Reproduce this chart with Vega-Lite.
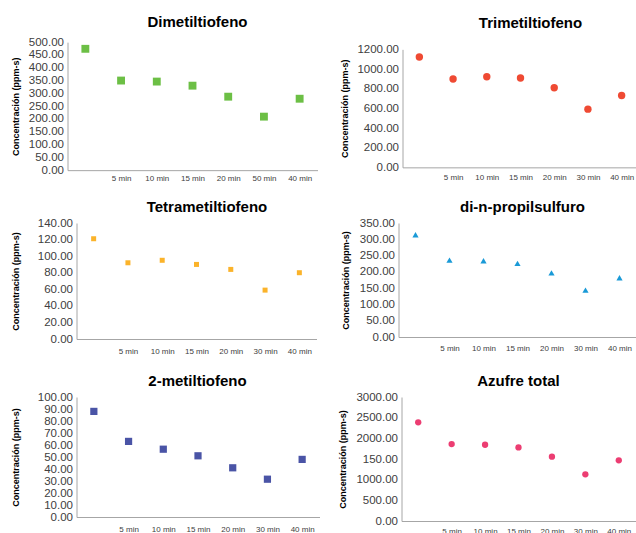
{
  "$schema": "https://vega.github.io/schema/vega-lite/v6.json",
  "padding": {"left": 10.5, "top": 14, "right": 0, "bottom": 0},
  "background": "white",
  "datasets": {
    "d1": [{"t": "", "v": 474}, {"t": "5 min", "v": 350}, {"t": "10 min", "v": 346}, {"t": "15 min", "v": 330}, {"t": "20 min", "v": 287}, {"t": "50 min", "v": 209}, {"t": "40 min", "v": 279}],
    "d2": [{"t": "", "v": 1122}, {"t": "5 min", "v": 898}, {"t": "10 min", "v": 922}, {"t": "15 min", "v": 908}, {"t": "20 min", "v": 810}, {"t": "30 min", "v": 592}, {"t": "40 min", "v": 731}],
    "d3": [{"t": "", "v": 121}, {"t": "5 min", "v": 92}, {"t": "10 min", "v": 95}, {"t": "15 min", "v": 90}, {"t": "20 min", "v": 84}, {"t": "30 min", "v": 59}, {"t": "40 min", "v": 80}],
    "d4": [{"t": "", "v": 314}, {"t": "5 min", "v": 236}, {"t": "10 min", "v": 234}, {"t": "15 min", "v": 226}, {"t": "20 min", "v": 197}, {"t": "30 min", "v": 144}, {"t": "40 min", "v": 182}],
    "d5": [{"t": "", "v": 88}, {"t": "5 min", "v": 63}, {"t": "10 min", "v": 56.5}, {"t": "15 min", "v": 51}, {"t": "20 min", "v": 41}, {"t": "30 min", "v": 31.5}, {"t": "40 min", "v": 48}],
    "d6": [{"t": "", "v": 2387}, {"t": "5 min", "v": 1861}, {"t": "10 min", "v": 1845}, {"t": "15 min", "v": 1780}, {"t": "20 min", "v": 1557}, {"t": "30 min", "v": 1130}, {"t": "40 min", "v": 1468}]
  },
  "align": "none",
  "spacing": 11,
  "vconcat": [
    {
      "center": true,
      "spacing": 23,
      "hconcat": [
        {
          "data": {"name": "d1"},
          "width": 250, "height": 128,
          "title": {"text": "Dimetiltiofeno", "dx": 5, "offset": 6.5},
          "mark": {"type": "point", "shape": "square", "filled": true, "opacity": 1, "size": 62, "color": "#6CBF45"},
          "encoding": {
            "x": {"field": "t", "type": "nominal", "title": " ", "scale": {"type": "point", "padding": 0.5, "domain": ["", "5 min", "10 min", "15 min", "20 min", "50 min", "40 min"]}, "axis": {"labelPadding": 4.7, "titleFontSize": 2, "titlePadding": 4}},
            "y": {"field": "v", "type": "quantitative", "title": "Concentración (ppm-s)", "scale": {"domain": [0, 500], "nice": false}, "axis": {"values": [0, 50, 100, 150, 200, 250, 300, 350, 400, 450, 500], "format": ".2f", "titlePadding": 8}}
          }
        },
        {
          "data": {"name": "d2"},
          "width": 236, "height": 118,
          "title": {"text": "Trimetiltiofeno", "dx": 10, "offset": 12},
          "mark": {"type": "point", "shape": "circle", "filled": true, "opacity": 1, "size": 55, "color": "#EF4A33"},
          "encoding": {
            "x": {"field": "t", "type": "nominal", "title": null, "scale": {"type": "point", "padding": 0.5, "domain": ["", "5 min", "10 min", "15 min", "20 min", "30 min", "40 min"]}, "axis": {"labelPadding": 6.3}},
            "y": {"field": "v", "type": "quantitative", "title": "Concentración (ppm-s)", "scale": {"domain": [0, 1200], "nice": false}, "axis": {"values": [0, 200, 400, 600, 800, 1000, 1200], "format": ".2f", "titlePadding": 7}}
          }
        }
      ]
    },
    {
      "align": "none",
      "spacing": 19,
      "vconcat": [
        {
          "spacing": 24,
          "hconcat": [
            {
              "data": {"name": "d3"},
              "width": 249, "height": 116,
              "title": {"text": "Tetrametiltiofeno", "dx": 15, "offset": 2},
              "mark": {"type": "point", "shape": "square", "filled": true, "opacity": 1, "size": 25, "color": "#FBB32A"},
              "encoding": {
                "x": {"field": "t", "type": "nominal", "title": null, "scale": {"type": "point", "padding": 0.5, "range": [9, 249], "domain": ["", "5 min", "10 min", "15 min", "20 min", "30 min", "40 min"]}, "axis": {"labelPadding": 8}},
                "y": {"field": "v", "type": "quantitative", "title": "Concentración (ppm-s)", "scale": {"domain": [0, 140], "nice": false}, "axis": {"offset": -9, "values": [0, 20, 40, 60, 80, 100, 120, 140], "format": ".2f", "titlePadding": 17}}
              }
            },
            {
              "data": {"name": "d4"},
              "width": 238, "height": 114,
              "title": {"text": "di-n-propilsulfuro", "dx": 5, "offset": 2},
              "mark": {"type": "point", "shape": "triangle-up", "filled": true, "opacity": 1, "size": 38, "color": "#1A9AD7"},
              "encoding": {
                "x": {"field": "t", "type": "nominal", "title": null, "scale": {"type": "point", "padding": 0.5, "domain": ["", "5 min", "10 min", "15 min", "20 min", "30 min", "40 min"]}, "axis": {"labelPadding": 7.6}},
                "y": {"field": "v", "type": "quantitative", "title": "Concentración (ppm-s)", "scale": {"domain": [0, 350], "nice": false}, "axis": {"values": [0, 50, 100, 150, 200, 250, 300, 350], "format": ".2f", "titlePadding": 9}}
              }
            }
          ]
        },
        {
          "spacing": 19,
          "hconcat": [
            {
              "data": {"name": "d5"},
              "width": 252, "height": 120,
              "title": {"text": "2-metiltiofeno", "dx": 4, "offset": 2},
              "mark": {"type": "point", "shape": "square", "filled": true, "opacity": 1, "size": 52, "color": "#4A54A6"},
              "encoding": {
                "x": {"field": "t", "type": "nominal", "title": null, "scale": {"type": "point", "padding": 0.5, "range": [9, 252], "domain": ["", "5 min", "10 min", "15 min", "20 min", "30 min", "40 min"]}, "axis": {"labelPadding": 8.3}},
                "y": {"field": "v", "type": "quantitative", "title": "Concentración (ppm-s)", "scale": {"domain": [0, 100], "nice": false}, "axis": {"offset": -9, "values": [0, 10, 20, 30, 40, 50, 60, 70, 80, 90, 100], "format": ".2f", "titlePadding": 17}}
              }
            },
            {
              "data": {"name": "d6"},
              "width": 234, "height": 124,
              "title": {"text": "Azufre total", "dx": 0, "offset": 2},
              "mark": {"type": "point", "shape": "circle", "filled": true, "opacity": 1, "size": 40, "color": "#EC3D72"},
              "encoding": {
                "x": {"field": "t", "type": "nominal", "title": null, "scale": {"type": "point", "padding": 0.5, "domain": ["", "5 min", "10 min", "15 min", "20 min", "30 min", "40 min"]}, "axis": {"labelPadding": 6.7}},
                "y": {"field": "v", "type": "quantitative", "title": "Concentración (ppm-s)", "scale": {"domain": [0, 3000], "nice": false}, "axis": {"values": [0, 500, 1000, 1500, 2000, 2500, 3000], "labelExpr": "datum.value == 1500 ? '150.00' : format(datum.value, '.2f')", "titlePadding": 8}}
              }
            }
          ]
        }
      ]
    }
  ],
  "config": {
    "view": {"stroke": null},
    "axisX": {"ticks": false, "labelAngle": 0, "labelFontSize": 8, "labelColor": "#404040", "labelDx": -5, "domainColor": "#a6a6a6", "grid": false, "labelFont": "Liberation Sans"},
    "axisY": {"ticks": false, "grid": false, "labelFontSize": 11.5, "labelColor": "#404040", "labelPadding": 4, "domainColor": "#a6a6a6", "titleFontSize": 9, "titleFont": "Liberation Sans", "titleFontWeight": "bold", "titleColor": "#000000", "labelFont": "Liberation Sans"},
    "title": {"fontSize": 15, "font": "Liberation Sans", "fontWeight": "bold", "color": "#000000", "anchor": "middle"}
  }
}
